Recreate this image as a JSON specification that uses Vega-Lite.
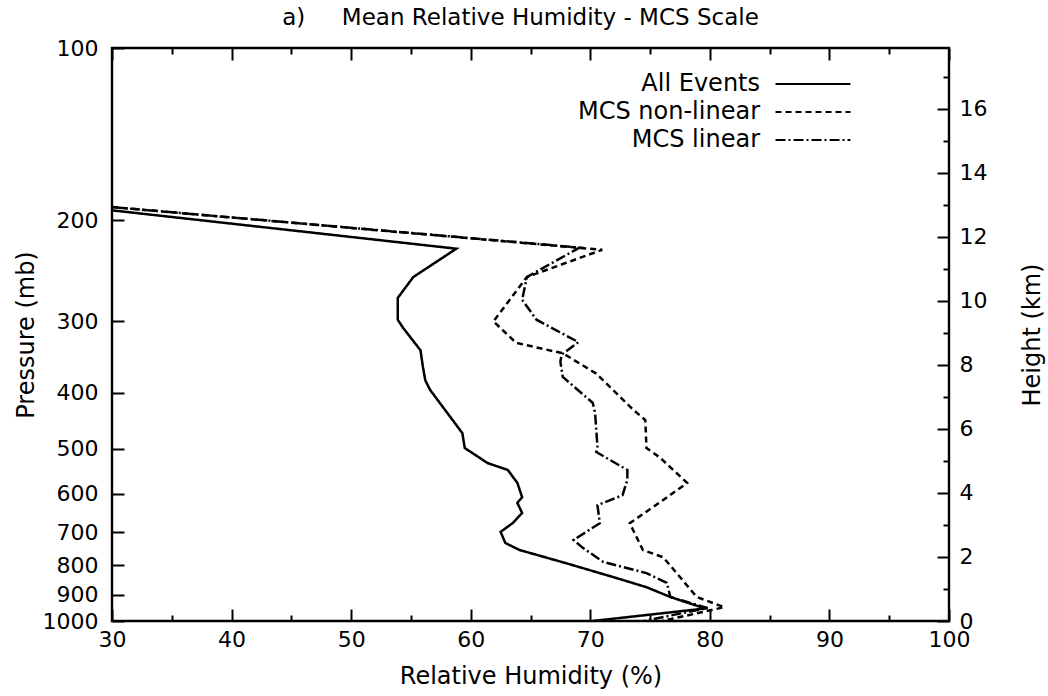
{
  "$schema": "https://vega.github.io/schema/vega-lite/v6.json",
  "width": 837,
  "height": 573,
  "autosize": {"type": "none"},
  "padding": {"left": 112, "top": 48, "right": 99, "bottom": 75},
  "background": "white",
  "title": {"text": "a)\u00a0\u00a0\u00a0\u00a0\u00a0Mean Relative Humidity - MCS Scale", "fontSize": 23, "font": "DejaVu Sans", "fontWeight": "normal", "color": "black", "offset": 7, "dx": -10},
  "config": {
    "view": {"stroke": "black", "strokeWidth": 2.4},
    "axis": {"domain": false, "grid": false, "tickColor": "black", "tickWidth": 2, "labelFont": "DejaVu Sans", "labelFontSize": 22, "labelColor": "black", "titleFont": "DejaVu Sans", "titleFontSize": 24, "titleFontWeight": "normal", "titleColor": "black", "labelOverlap": false, "labelBound": false, "labelFlush": false},
    "legend": {"orient": "none", "legendX": 689, "legendY": 24, "symbolType": "M-4,0H4", "symbolSize": 351, "symbolStrokeWidth": 2.2, "symbolStrokeColor": "black", "labelAlign": "right", "labelOffset": -65, "labelFontSize": 24, "labelFont": "DejaVu Sans", "labelColor": "black", "labelLimit": 400, "rowPadding": 4}
  },
  "datasets": {
    "profiles": [
      {"series": "All Events", "p": 192, "rh": 30},
      {"series": "All Events", "p": 224, "rh": 58.8},
      {"series": "All Events", "p": 251, "rh": 55.2},
      {"series": "All Events", "p": 273, "rh": 53.9},
      {"series": "All Events", "p": 298, "rh": 53.9},
      {"series": "All Events", "p": 307, "rh": 54.3},
      {"series": "All Events", "p": 337, "rh": 55.8},
      {"series": "All Events", "p": 360, "rh": 56.0},
      {"series": "All Events", "p": 380, "rh": 56.2},
      {"series": "All Events", "p": 395, "rh": 56.6},
      {"series": "All Events", "p": 470, "rh": 59.3},
      {"series": "All Events", "p": 499, "rh": 59.5},
      {"series": "All Events", "p": 530, "rh": 61.4},
      {"series": "All Events", "p": 545, "rh": 63.1},
      {"series": "All Events", "p": 574, "rh": 63.9},
      {"series": "All Events", "p": 608, "rh": 64.3},
      {"series": "All Events", "p": 622, "rh": 63.9},
      {"series": "All Events", "p": 648, "rh": 64.3},
      {"series": "All Events", "p": 675, "rh": 63.5},
      {"series": "All Events", "p": 699, "rh": 62.5},
      {"series": "All Events", "p": 731, "rh": 62.9},
      {"series": "All Events", "p": 752, "rh": 64.1},
      {"series": "All Events", "p": 793, "rh": 68.0},
      {"series": "All Events", "p": 838, "rh": 71.9},
      {"series": "All Events", "p": 873, "rh": 74.7},
      {"series": "All Events", "p": 908, "rh": 76.7},
      {"series": "All Events", "p": 945, "rh": 79.2},
      {"series": "All Events", "p": 950, "rh": 79.8},
      {"series": "All Events", "p": 1000, "rh": 70.2},
      {"series": "MCS non-linear", "p": 189.5, "rh": 30},
      {"series": "MCS non-linear", "p": 225, "rh": 71.0},
      {"series": "MCS non-linear", "p": 251, "rh": 64.7},
      {"series": "MCS non-linear", "p": 300, "rh": 61.9},
      {"series": "MCS non-linear", "p": 327, "rh": 63.8},
      {"series": "MCS non-linear", "p": 341, "rh": 67.7},
      {"series": "MCS non-linear", "p": 370, "rh": 70.5},
      {"series": "MCS non-linear", "p": 428, "rh": 73.6},
      {"series": "MCS non-linear", "p": 446, "rh": 74.6},
      {"series": "MCS non-linear", "p": 499, "rh": 74.7},
      {"series": "MCS non-linear", "p": 518, "rh": 75.8},
      {"series": "MCS non-linear", "p": 574, "rh": 78.1},
      {"series": "MCS non-linear", "p": 615, "rh": 76.1},
      {"series": "MCS non-linear", "p": 675, "rh": 73.3},
      {"series": "MCS non-linear", "p": 752, "rh": 74.4},
      {"series": "MCS non-linear", "p": 774, "rh": 76.1},
      {"series": "MCS non-linear", "p": 838, "rh": 77.5},
      {"series": "MCS non-linear", "p": 908, "rh": 78.9},
      {"series": "MCS non-linear", "p": 946, "rh": 81.2},
      {"series": "MCS non-linear", "p": 1000, "rh": 76.0},
      {"series": "MCS linear", "p": 189.5, "rh": 30},
      {"series": "MCS linear", "p": 223, "rh": 69.1},
      {"series": "MCS linear", "p": 251, "rh": 64.7},
      {"series": "MCS linear", "p": 275, "rh": 64.3},
      {"series": "MCS linear", "p": 298, "rh": 65.5},
      {"series": "MCS linear", "p": 326, "rh": 69.0},
      {"series": "MCS linear", "p": 343, "rh": 67.6},
      {"series": "MCS linear", "p": 353, "rh": 67.5},
      {"series": "MCS linear", "p": 375, "rh": 67.7},
      {"series": "MCS linear", "p": 416, "rh": 70.2},
      {"series": "MCS linear", "p": 433, "rh": 70.4},
      {"series": "MCS linear", "p": 497, "rh": 70.6},
      {"series": "MCS linear", "p": 507, "rh": 70.5},
      {"series": "MCS linear", "p": 545, "rh": 73.1},
      {"series": "MCS linear", "p": 567, "rh": 73.1},
      {"series": "MCS linear", "p": 603, "rh": 72.7},
      {"series": "MCS linear", "p": 628, "rh": 70.6},
      {"series": "MCS linear", "p": 675, "rh": 70.8},
      {"series": "MCS linear", "p": 722, "rh": 68.6},
      {"series": "MCS linear", "p": 746, "rh": 69.4},
      {"series": "MCS linear", "p": 789, "rh": 71.1},
      {"series": "MCS linear", "p": 825, "rh": 74.7},
      {"series": "MCS linear", "p": 858, "rh": 76.4},
      {"series": "MCS linear", "p": 908, "rh": 76.7},
      {"series": "MCS linear", "p": 949, "rh": 79.8},
      {"series": "MCS linear", "p": 1000, "rh": 74.5}
    ],
    "frame": [
      {"rh": 30, "km": 0},
      {"rh": 100, "km": 17.9}
    ]
  },
  "layer": [
    {
      "data": {"name": "profiles"},
      "mark": {"type": "line", "stroke": "black", "strokeWidth": 2.5, "clip": true},
      "encoding": {
        "x": {
          "field": "rh", "type": "quantitative",
          "scale": {"domain": [30, 100], "nice": false, "zero": false},
          "axis": {
            "orient": "bottom",
            "title": "Relative Humidity (%)",
            "values": [30, 35, 40, 45, 50, 55, 60, 65, 70, 75, 80, 85, 90, 95, 100],
            "labelExpr": "datum.value % 10 === 0 ? datum.label : ''",
            "tickSize": {"condition": {"test": "datum.value % 10 === 0", "value": -12}, "value": -6},
            "labelPadding": 20,
            "titlePadding": 8
          }
        },
        "y": {
          "field": "p", "type": "quantitative",
          "scale": {"type": "log", "domain": [100, 1000], "nice": false, "reverse": true},
          "axis": {
            "orient": "left",
            "title": "Pressure (mb)",
            "format": "d",
            "values": [100, 200, 300, 400, 500, 600, 700, 800, 900, 1000],
            "tickSize": -12,
            "labelPadding": 26,
            "titlePadding": 4
          }
        },
        "strokeDash": {
          "field": "series", "type": "nominal",
          "scale": {"domain": ["All Events", "MCS non-linear", "MCS linear"], "range": [[1, 0], [6, 4], [10, 3, 2, 3]]},
          "legend": {"title": null}
        },
        "order": {"field": "p", "type": "quantitative"}
      }
    },
    {
      "data": {"name": "frame"},
      "mark": {"type": "point", "opacity": 0},
      "encoding": {
        "x": {
          "field": "rh", "type": "quantitative",
          "axis": {
            "orient": "top",
            "title": null,
            "values": [30, 35, 40, 45, 50, 55, 60, 65, 70, 75, 80, 85, 90, 95, 100],
            "labels": false,
            "tickSize": {"condition": {"test": "datum.value % 10 === 0", "value": -12}, "value": -6}
          }
        },
        "y": {
          "field": "km", "type": "quantitative",
          "scale": {"domain": [0, 17.9], "nice": false, "zero": false},
          "axis": {
            "orient": "right",
            "title": "Height (km)",
            "titleAngle": -90,
            "values": [0, 1, 2, 3, 4, 5, 6, 7, 8, 9, 10, 11, 12, 13, 14, 15, 16, 17],
            "labelExpr": "datum.value % 2 === 0 ? datum.label : ''",
            "tickSize": {"condition": {"test": "datum.value % 2 === 0", "value": -12}, "value": -6},
            "labelPadding": 22,
            "titlePadding": 58
          }
        }
      }
    }
  ],
  "resolve": {"scale": {"y": "independent"}, "axis": {"x": "independent"}}
}
